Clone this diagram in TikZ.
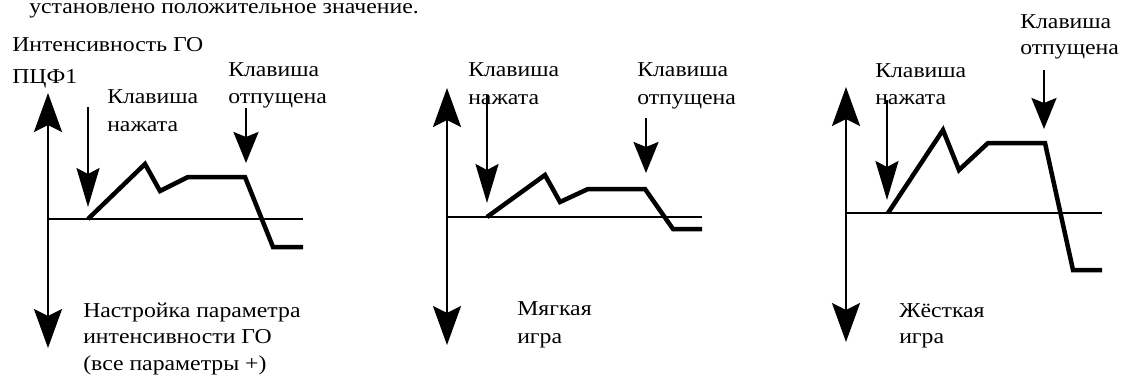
\documentclass[tikz,border=0pt]{standalone}
\usepackage{fontspec}
\setmainfont{Liberation Serif}[FakeStretch=1.12]
\usetikzlibrary{arrows.meta}

\tikzset{
  px/.style={x=0.75pt,y=-0.75pt},
  lbl/.style={anchor=base west,inner sep=0pt,font=\fontsize{15.9}{21}\selectfont},
  axis/.style={line width=2.6pt*0.75,
    {Stealth[length=39pt*0.75,width=28pt*0.75,inset=7pt*0.75]}-{Stealth[length=39pt*0.75,width=28pt*0.75,inset=7pt*0.75]}},
  zero/.style={line width=2.2pt*0.75},
  level/.style={line width=4.5pt*0.75,line join=miter},
  press/.style={line width=2.6pt*0.75,-{Stealth[length=39pt*0.75,width=23pt*0.75,inset=6pt*0.75]}},
  release/.style={line width=2.6pt*0.75,-{Stealth[length=31pt*0.75,width=25pt*0.75,inset=5pt*0.75]}}
}

\begin{document}
\begin{tikzpicture}[px]
  \useasboundingbox (0,0) rectangle (1121,376);
  \clip (0,0) rectangle (1121,376);

  % last line of the preceding paragraph
  \node[lbl] (intro) at (29,13) {установлено положительное значение.};

  % ---------- panel 1: parameter setting ----------
  \coordinate (a1t) at (48,93);  \coordinate (a1b) at (48,348);
  \coordinate (z1l) at (48,219); \coordinate (z1r) at (303,219);
  \draw[axis] (a1t) -- (a1b);
  \draw[zero] (z1l) -- (z1r);
  \draw[level] (88,219) -- (145,164) -- (160,191) -- (188,177) -- (245,177)
               -- (273,247) -- (303,247);
  \coordinate (p1s) at (88,107);  \coordinate (p1e) at (88,207);
  \coordinate (r1s) at (246,108); \coordinate (r1e) at (246,163);
  \draw[press] (p1s) -- (p1e);
  \draw[release] (r1s) -- (r1e);
  \node[lbl] (t1a) at (12,51) {Интенсивность ГО};
  \node[lbl] (t1b) at (12,83) {ПЦФ1};
  \node[lbl] (k1a) at (107,103) {Клавиша};
  \node[lbl] (k1b) at (107,131) {нажата};
  \node[lbl] (o1a) at (228,76) {Клавиша};
  \node[lbl] (o1b) at (228,103) {отпущена};
  \node[lbl] (c1a) at (83,317) {Настройка параметра};
  \node[lbl] (c1b) at (83,343) {интенсивности ГО};
  \node[lbl] (c1c) at (83,370) {(все параметры +)};

  % ---------- panel 2: soft playing ----------
  \coordinate (a2t) at (447,88);  \coordinate (a2b) at (447,345);
  \coordinate (z2l) at (447,217); \coordinate (z2r) at (702,217);
  \draw[axis] (a2t) -- (a2b);
  \draw[zero] (z2l) -- (z2r);
  \draw[level] (487,217) -- (545,175) -- (560,202) -- (588,189) -- (645,189)
               -- (673,229) -- (702,229);
  \coordinate (p2s) at (487,95);  \coordinate (p2e) at (487,203);
  \coordinate (r2s) at (646,118); \coordinate (r2e) at (646,173);
  \draw[press] (p2s) -- (p2e);
  \draw[release] (r2s) -- (r2e);
  \node[lbl] (k2a) at (468,76) {Клавиша};
  \node[lbl] (k2b) at (468,104) {нажата};
  \node[lbl] (o2a) at (637,76) {Клавиша};
  \node[lbl] (o2b) at (637,104) {отпущена};
  \node[lbl] (c2a) at (517,315) {Мягкая};
  \node[lbl] (c2b) at (517,343) {игра};

  % ---------- panel 3: hard playing ----------
  \coordinate (a3t) at (846,87);  \coordinate (a3b) at (846,342);
  \coordinate (z3l) at (846,213); \coordinate (z3r) at (1102,213);
  \draw[axis] (a3t) -- (a3b);
  \draw[zero] (z3l) -- (z3r);
  \draw[level] (888,213) -- (943,130) -- (959,170) -- (988,143) -- (1045,143)
               -- (1073,270) -- (1102,270);
  \coordinate (p3s) at (887,100);  \coordinate (p3e) at (887,200);
  \coordinate (r3s) at (1044,70);  \coordinate (r3e) at (1044,129);
  \draw[press] (p3s) -- (p3e);
  \draw[release] (r3s) -- (r3e);
  \node[lbl] (k3a) at (875,77) {Клавиша};
  \node[lbl] (k3b) at (875,104) {нажата};
  \node[lbl] (o3a) at (1020,28) {Клавиша};
  \node[lbl] (o3b) at (1020,54) {отпущена};
  \node[lbl] (c3a) at (899,317) {Жёсткая};
  \node[lbl] (c3b) at (899,343) {игра};
\end{tikzpicture}
\end{document}
